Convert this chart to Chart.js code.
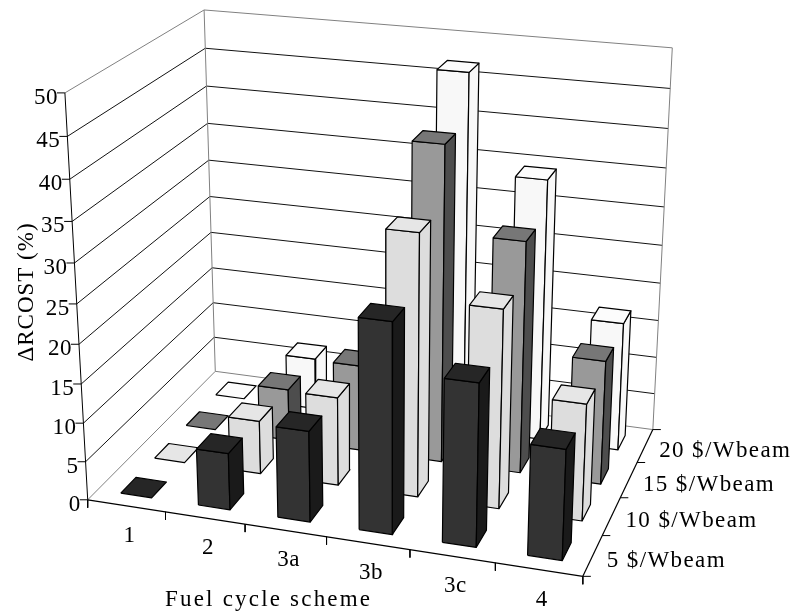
<!DOCTYPE html>
<html>
<head>
<meta charset="utf-8">
<style>
  html, body { margin: 0; padding: 0; background: #fff; }
  canvas { display: block; }
</style>
<script src="https://cdn.jsdelivr.net/npm/chart.js@4/dist/chart.umd.min.js"></script>
</head>
<body>
<canvas id="chart" width="794" height="613"></canvas>
<script>
const schemes = ['1', '2', '3a', '3b', '3c', '4'];
const beamLabels = ['5 $/Wbeam', '10 $/Wbeam', '15 $/Wbeam', '20 $/Wbeam'];
const beam5 = [0, 7.3, 11.6, 26.4, 20.4, 13.8];
const beam10 = [0, 7, 11.5, 33.4, 25.3, 14.9];
const beam15 = [0, 6.9, 11.4, 40.9, 30, 16.1];
const beam20 = [0, 7, 11.5, 46.9, 34.4, 17];
const yTicks = [0, 5, 10, 15, 20, 25, 30, 35, 40, 45, 50];
const yMax = 50;

// front, side, top colours for each row of bars
const rowColors = [
  ['#333333', '#1a1a1a', '#262626'],
  ['#dddddd', '#dddddd', '#e6e6e6'],
  ['#999999', '#4d4d4d', '#777777'],
  ['#f8f8f8', '#f8f8f8', '#fcfcfc']
];
const rows = [beam5, beam10, beam15, beam20];
const barWidth = 0.4, barDepth = 0.44;

// box corners seen in the picture, used to fit the camera
const cameraPoints = [
  [0, 0, 0, 87.5, 500], [1, 0, 0, 583, 576], [0, 1, 0, 215.5, 371], [1, 1, 0, 652.7, 430],
  [0, 0, 1, 65, 93], [0, 1, 1, 204, 10], [1, 1, 1, 672.3, 47.7]
];

function fitCamera(points) {
  const eqs = [];
  points.forEach(([x, y, z, u, v]) => {
    eqs.push([x, y, z, 1, 0, 0, 0, 0, -u * x, -u * y, -u * z, u]);
    eqs.push([0, 0, 0, 0, x, y, z, 1, -v * x, -v * y, -v * z, v]);
  });
  // normal equations, then plain gaussian elimination
  const n = 11;
  const m = [];
  for (let i = 0; i < n; i++) {
    m.push(new Array(n + 1).fill(0));
    for (let j = 0; j <= n; j++) {
      eqs.forEach(e => { m[i][j] += e[i] * e[j]; });
    }
  }
  for (let i = 0; i < n; i++) {
    let best = i;
    for (let r = i + 1; r < n; r++) if (Math.abs(m[r][i]) > Math.abs(m[best][i])) best = r;
    [m[i], m[best]] = [m[best], m[i]];
    for (let r = 0; r < n; r++) {
      if (r === i) continue;
      const f = m[r][i] / m[i][i];
      for (let c = i; c <= n; c++) m[r][c] -= f * m[i][c];
    }
  }
  return m.map((row, i) => row[n] / row[i]);
}

const cam = fitCamera(cameraPoints);

function project(x, y, z) {
  const w = cam[8] * x + cam[9] * y + cam[10] * z + 1;
  return {
    x: (cam[0] * x + cam[1] * y + cam[2] * z + cam[3]) / w,
    y: (cam[4] * x + cam[5] * y + cam[6] * z + cam[7]) / w
  };
}

const datasets = [];

function addLine(a, b, color, width) {
  datasets.push({
    data: [project(...a), project(...b)],
    borderColor: color,
    borderWidth: width,
    fill: false
  });
}

// tick mark: starts on the axis, runs a few pixels along the screen
function addTick(a, dx, dy) {
  const p = project(...a);
  datasets.push({
    data: [p, { x: p.x + dx, y: p.y + dy }],
    borderColor: '#000000',
    borderWidth: 1,
    fill: false
  });
}

function addFace(corners, color) {
  const pts = corners.map(c => project(...c));
  pts.push(pts[0]);
  datasets.push({
    data: pts,
    borderColor: '#000000',
    borderWidth: 1.2,
    backgroundColor: color,
    fill: 'shape',
    borderJoinStyle: 'round'
  });
}

function addBar(col, row, value) {
  const x0 = (col + 0.5 - barWidth / 2) / schemes.length;
  const x1 = (col + 0.5 + barWidth / 2) / schemes.length;
  const y0 = (row + 0.5 - barDepth / 2) / rows.length;
  const y1 = (row + 0.5 + barDepth / 2) / rows.length;
  const z = value / yMax;
  const colors = rowColors[row];
  if (value > 0) {
    addFace([[x0, y0, 0], [x1, y0, 0], [x1, y0, z], [x0, y0, z]], colors[0]);
    addFace([[x1, y0, 0], [x1, y1, 0], [x1, y1, z], [x1, y0, z]], colors[1]);
  }
  addFace([[x0, y0, z], [x1, y0, z], [x1, y1, z], [x0, y1, z]], colors[2]);
}

// walls first
const wallGray = '#808080';
yTicks.forEach(t => {
  const z = t / yMax;
  const c = (t === 0 || t === yMax) ? wallGray : '#111111';
  addLine([0, 0, z], [0, 1, z], c, 1);
  addLine([0, 1, z], [1, 1, z], c, 1);
});
addLine([0, 1, 0], [0, 1, 1], wallGray, 1);
addLine([1, 1, 0], [1, 1, 1], wallGray, 1);

// axes and tick marks
addLine([0, 0, 0], [0, 0, 1], '#000000', 1);
addLine([0, 0, 0], [1, 0, 0], '#000000', 1.2);
addLine([1, 0, 0], [1, 1, 0], '#000000', 1.2);
yTicks.forEach(t => addTick([0, 0, t / yMax], -8, 0));
for (let i = 0; i <= schemes.length; i++) {
  addTick([i / schemes.length, 0, 0], 0, 8);
}
for (let i = 0; i <= rows.length; i++) {
  addTick([1, i / rows.length, 0], 8, 0);
}

// bars, back row first and left to right
for (let row = rows.length - 1; row >= 0; row--) {
  rows[row].forEach((value, col) => addBar(col, row, value));
}

const textFont = '23px "Liberation Serif"';

const axisText = {
  id: 'axisText',
  afterDraw(chart) {
    const { ctx, scales } = chart;
    const put = (text, x, y, align, spacing) => {
      ctx.textAlign = align;
      ctx.letterSpacing = spacing + 'px';
      ctx.fillText(text, scales.x.getPixelForValue(x), scales.y.getPixelForValue(y));
    };
    ctx.save();
    ctx.font = textFont;
    ctx.fillStyle = '#000000';
    ctx.textBaseline = 'alphabetic';
    yTicks.forEach(t => {
      const p = project(0, 0, t / yMax);
      put(String(t), p.x - 7, p.y + 11, 'right', 0.5);
    });
    schemes.forEach((s, i) => {
      const p = project((i + 0.5) / schemes.length, 0, 0);
      put(s, p.x + 3, p.y + 36, 'center', 0.5);
    });
    beamLabels.forEach((s, i) => {
      const p = project(1, (i + 0.5) / rows.length, 0);
      put(s, p.x + 14, p.y + 11, 'left', 1.4);
    });
    put('Fuel cycle scheme', 165, 606, 'left', 2.2);
    ctx.translate(33, 292);
    ctx.rotate(-Math.PI / 2);
    ctx.textAlign = 'center';
    ctx.letterSpacing = '1px';
    ctx.fillText('\u0394RCOST (%)', 0, 0);
    ctx.restore();
  }
};

new Chart(document.getElementById('chart'), {
  type: 'scatter',
  data: { datasets: datasets.reverse() },
  options: {
    responsive: false,
    animation: false,
    devicePixelRatio: 1,
    layout: { padding: 0 },
    showLine: true,
    elements: { point: { radius: 0 }, line: { tension: 0 } },
    plugins: { legend: { display: false }, tooltip: { enabled: false } },
    scales: {
      x: { type: 'linear', display: false, min: 0, max: 794 },
      y: { type: 'linear', display: false, min: 0, max: 613, reverse: true }
    }
  },
  plugins: [axisText]
});
</script>
</body>
</html>
